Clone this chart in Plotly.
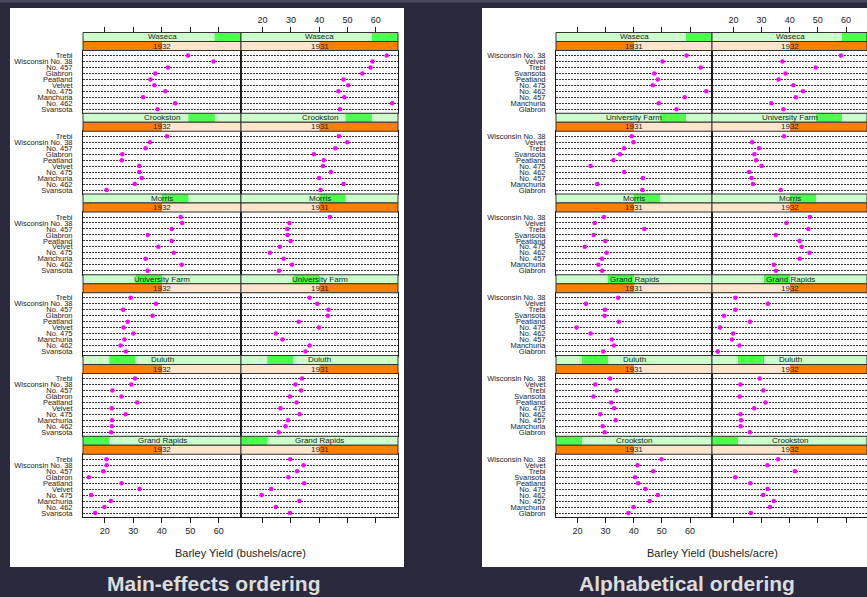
import plotly.graph_objects as go

# ---------------------------------------------------------------- data
variety_rows = ["Manchuria", "Glabron", "Svansota", "Velvet", "Trebi",
                "No. 457", "No. 462", "Peatland", "No. 475", "Wisconsin No. 38"]
site_cols = ["University Farm", "Waseca", "Morris", "Crookston", "Grand Rapids", "Duluth"]

# yields (bushels/acre), one row per variety, one column per site
yield_1931 = [
    [27.00, 48.87, 27.43, 39.93, 32.97, 28.97],  # Manchuria
    [43.07, 55.20, 28.77, 38.13, 29.13, 29.67],  # Glabron
    [35.13, 47.33, 25.77, 40.47, 29.67, 25.70],  # Svansota
    [39.90, 50.23, 26.13, 41.33, 23.03, 26.30],  # Velvet
    [36.57, 63.83, 43.77, 46.93, 29.77, 33.93],  # Trebi
    [43.27, 58.10, 28.70, 45.67, 32.17, 33.60],  # No. 457
    [36.60, 65.77, 30.37, 48.57, 24.67, 28.10],  # No. 462
    [32.77, 48.57, 29.87, 41.60, 34.70, 32.00],  # Peatland
    [24.67, 46.77, 22.60, 44.10, 19.70, 33.07],  # No. 475
    [39.30, 58.80, 29.47, 49.87, 34.47, 31.60],  # Wisconsin No. 38
]
yield_1932 = [
    [26.90, 33.47, 34.37, 32.97, 22.13, 22.57],  # Manchuria
    [36.80, 37.73, 35.13, 26.17, 14.43, 25.87],  # Glabron
    [27.43, 38.50, 35.03, 20.63, 16.63, 22.23],  # Svansota
    [26.63, 37.40, 38.83, 32.07, 32.23, 22.47],  # Velvet
    [29.07, 49.23, 46.63, 41.83, 20.63, 30.60],  # Trebi
    [26.43, 42.20, 43.53, 34.33, 19.47, 22.70],  # No. 457
    [25.57, 44.70, 47.00, 30.53, 19.90, 22.50],  # No. 462
    [28.07, 36.03, 43.50, 26.00, 25.90, 31.37],  # Peatland
    [30.00, 41.27, 44.23, 32.13, 15.23, 27.37],  # No. 475
    [38.00, 58.17, 47.17, 35.90, 20.67, 29.33],  # Wisconsin No. 38
]
yields = {"1931": yield_1931, "1932": yield_1932}

# level orders (first level drawn at the bottom / leftmost strip segment)
variety_main = ["Svansota", "No. 462", "Manchuria", "No. 475", "Velvet",
                "Peatland", "Glabron", "No. 457", "Wisconsin No. 38", "Trebi"]
site_main = ["Grand Rapids", "Duluth", "University Farm", "Morris", "Crookston", "Waseca"]
year_main = ["1932", "1931"]

variety_alpha = sorted(variety_rows)
site_alpha = sorted(site_cols)
year_alpha = sorted(year_main)

x_ticks = [20, 30, 40, 50, 60]
x_title = "Barley Yield (bushels/acre)"

# ---------------------------------------------------------------- geometry
W, H = 867, 597
def px(x): return x / W
def py(y): return 1 - y / H

XLO, XHI = 12.38, 67.82
YLO, YHI = -0.67, 9.84
TOP = 32.5
BLOCK = 80.75
STRIP = 9.0

FONT = "Liberation Sans, Arial, sans-serif"
INK = "#1a1a1a"
BG = "#2a293e"

boards = [
    dict(varieties=variety_main, sites=site_main, years=year_main,
         cols=[(83, 241), (241, 398)], card=(10, 404), label="Main-effects ordering",
         label_x=214),
    dict(varieties=variety_alpha, sites=site_alpha, years=year_alpha,
         cols=[(556, 712), (712, 868)], card=(482, 867), label="Alphabetical ordering",
         label_x=687),
]

fig = go.Figure()
layout = {}
shapes = []
annotations = []

# dark page, white cards
shapes.append(dict(type="rect", xref="paper", yref="paper", x0=0, x1=1,
                   y0=py(2.5), y1=1, fillcolor="#4b4a5c", line_width=0, layer="below"))
for b in boards:
    c0, c1 = b["card"]
    shapes.append(dict(type="rect", xref="paper", yref="paper",
                       x0=px(c0), x1=px(c1), y0=py(567), y1=py(8),
                       fillcolor="white", line_width=0, layer="below"))

n = 0
for bi, b in enumerate(boards):
    nsites = len(b["sites"])
    for k in range(nsites):
        site = b["sites"][nsites - 1 - k]
        site_lev = b["sites"].index(site)
        ytop = TOP + k * BLOCK
        for c, (cx0, cx1) in enumerate(b["cols"]):
            year = b["years"][c]
            year_lev = c
            n += 1
            xa = "xaxis" if n == 1 else f"xaxis{n}"
            ya = "yaxis" if n == 1 else f"yaxis{n}"
            xr = "x" if n == 1 else f"x{n}"
            yr = "y" if n == 1 else f"y{n}"

            vx1 = min(cx1, W)
            xhi = XLO + (XHI - XLO) * (vx1 - cx0) / (cx1 - cx0)
            bottom_row = (k == nsites - 1)
            layout[xa] = dict(
                domain=[px(cx0), px(vx1)], range=[XLO, xhi], anchor=yr,
                tickmode="array", tickvals=x_ticks,
                ticks="outside" if bottom_row else "", ticklen=5, tickcolor=INK,
                showticklabels=bottom_row and c == 0,
                tickfont=dict(family=FONT, size=9, color=INK),
                showgrid=False, zeroline=False, showline=True, mirror=True,
                linecolor=INK, linewidth=1, fixedrange=True,
            )
            layout[ya] = dict(
                domain=[py(ytop + BLOCK), py(ytop + 2 * STRIP)], anchor=xr,
                type="category", categoryorder="array", categoryarray=b["varieties"],
                tickmode="array", tickvals=b["varieties"], ticktext=b["varieties"],
                range=[YLO, YHI], ticks="", showticklabels=(c == 0),
                ticklabelstandoff=8,
                tickfont=dict(family=FONT, size=7.5, color=INK),
                showgrid=True, gridcolor="#333333", gridwidth=1, griddash="2px,1px",
                zeroline=False, showline=True, mirror=True,
                linecolor=INK, linewidth=1, fixedrange=True,
            )

            xs = [yields[year][variety_rows.index(v)][site_cols.index(site)]
                  for v in b["varieties"]]
            fig.add_trace(go.Scatter(
                x=xs, y=b["varieties"], mode="markers", xaxis=xr, yaxis=yr,
                marker=dict(color="#ff00ff", size=4.5, line_width=0),
                showlegend=False, hoverinfo="x+y",
            ))

            # strips: site on top, year below, with level indicator
            wcol = cx1 - cx0
            for (s_y0, lev, nlev, pale, bright, text) in [
                (ytop, site_lev, nsites, "#ccffcc", "#4dff4d", site),
                (ytop + STRIP, year_lev, len(b["years"]), "#ffe5cc", "#ff8000", year),
            ]:
                s_y1 = s_y0 + STRIP
                shapes.append(dict(type="rect", xref="paper", yref="paper",
                                   x0=px(cx0), x1=px(vx1), y0=py(s_y1), y1=py(s_y0),
                                   fillcolor=pale, line_width=0))
                hx0 = cx0 + wcol * lev / nlev
                hx1 = min(cx0 + wcol * (lev + 1) / nlev, W)
                shapes.append(dict(type="rect", xref="paper", yref="paper",
                                   x0=px(hx0), x1=px(hx1), y0=py(s_y1), y1=py(s_y0),
                                   fillcolor=bright, line_width=0))
                shapes.append(dict(type="rect", xref="paper", yref="paper",
                                   x0=px(cx0), x1=px(vx1), y0=py(s_y1), y1=py(s_y0),
                                   line=dict(color="#333333", width=1)))
                annotations.append(dict(
                    xref="paper", yref="paper", x=px((cx0 + cx1) / 2),
                    y=py((s_y0 + s_y1) / 2), text=text, showarrow=False,
                    xanchor="center", yanchor="middle",
                    font=dict(family=FONT, size=8, color=INK)))

    # top tick axes sitting above the first row of strips
    for c, (cx0, cx1) in enumerate(b["cols"]):
        vx1 = min(cx1, W)
        xhi = XLO + (XHI - XLO) * (vx1 - cx0) / (cx1 - cx0)
        key = bi * 2 + c + 25
        layout[f"xaxis{key}"] = dict(
            domain=[px(cx0), px(vx1)], range=[XLO, xhi], anchor=f"y{key}",
            side="top", tickmode="array", tickvals=x_ticks,
            ticks="outside", ticklen=5, tickcolor=INK,
            showticklabels=(c == 1),
            tickfont=dict(family=FONT, size=9, color=INK),
            showgrid=False, zeroline=False, showline=False, fixedrange=True,
        )
        layout[f"yaxis{key}"] = dict(
            domain=[py(TOP + 1), py(TOP)], anchor=f"x{key}", range=[0, 1],
            visible=False, showgrid=False, zeroline=False, fixedrange=True,
        )
        fig.add_trace(go.Scatter(x=[], y=[], xaxis=f"x{key}", yaxis=f"y{key}",
                                 showlegend=False, hoverinfo="skip"))

    # axis title and caption
    cx0 = b["cols"][0][0]
    cx1 = b["cols"][1][1]
    annotations.append(dict(
        xref="paper", yref="paper", x=px((cx0 + cx1) / 2), y=py(553),
        text=x_title, showarrow=False, xanchor="center", yanchor="middle",
        font=dict(family=FONT, size=11, color="#222222")))
    annotations.append(dict(
        xref="paper", yref="paper", x=px(b["label_x"]), y=py(583),
        text=f"<b>{b['label']}</b>", showarrow=False, xanchor="center", yanchor="middle",
        font=dict(family=FONT, size=21, color="#dcdcdc")))

fig.update_layout(
    width=W, height=H, autosize=False,
    margin=dict(l=0, r=0, t=0, b=0, pad=0),
    paper_bgcolor=BG, plot_bgcolor="white",
    showlegend=False, shapes=shapes, annotations=annotations,
    **layout,
)

fig.write_html("out.html")
